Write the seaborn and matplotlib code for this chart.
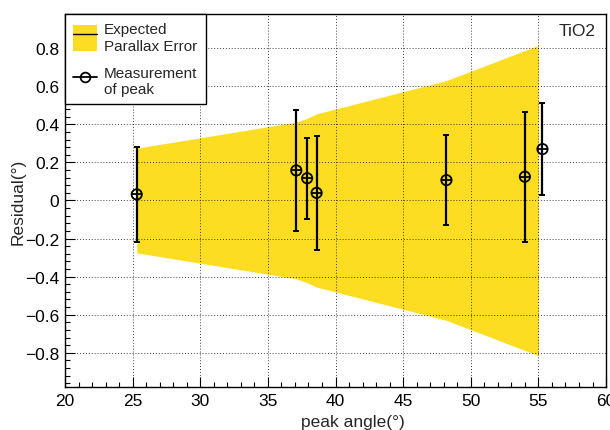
import numpy as np
import pandas as pd
import matplotlib
matplotlib.use("Agg")
import matplotlib.pyplot as plt
import seaborn as sns
from matplotlib.patches import Patch
from matplotlib.lines import Line2D
from matplotlib.ticker import MultipleLocator

# measured peaks: angle, residual, error
peak_angle = [25.3, 37.1, 37.9, 38.6, 48.2, 54.0, 55.3]
residual = [0.032, 0.158, 0.117, 0.040, 0.107, 0.125, 0.270]
residual_err = [0.250, 0.317, 0.214, 0.300, 0.235, 0.341, 0.242]

# expected parallax error band (half width)
band_angle = [25.3, 37.1, 37.9, 38.6, 48.2, 54.0, 55.0]
band_half = [0.275, 0.412, 0.432, 0.455, 0.630, 0.788, 0.815]

df = pd.DataFrame({"angle": peak_angle, "res": residual, "err": residual_err})
band = pd.DataFrame({"angle": band_angle, "half": band_half})

sns.set_theme(style="white")
plt.rcParams["font.family"] = ["Liberation Sans", "DejaVu Sans"]
plt.rcParams["axes.unicode_minus"] = True

yellow = "#fddd22"

fig = plt.figure(figsize=(6.10, 4.31), dpi=100)
ax = fig.add_axes([0.1066, 0.0998, 0.8869, 0.8654])

ax.fill_between(band["angle"], -band["half"], band["half"], color=yellow, lw=0, zorder=1)

# y error bars with caps
ax.errorbar(df["angle"], df["res"], yerr=df["err"], fmt="none", ecolor="black",
            elinewidth=1.6, capsize=2.2, capthick=1.4, zorder=3)
# small x error bars (no caps)
ax.errorbar(df["angle"], df["res"], xerr=0.36, fmt="none", ecolor="black",
            elinewidth=1.3, capsize=0, zorder=3)
sns.scatterplot(data=df, x="angle", y="res", ax=ax, marker="o", s=55,
                facecolor="none", edgecolor="black", linewidth=1.3, zorder=4)

ax.set_xlim(20, 60)
ax.set_ylim(-0.98, 0.98)
ax.xaxis.set_major_locator(MultipleLocator(5))
ax.xaxis.set_minor_locator(MultipleLocator(1))
ax.yaxis.set_minor_locator(MultipleLocator(0.04))
ax.set_yticks(np.arange(-0.8, 0.81, 0.2))
ax.set_yticklabels(["\u22120.8", "\u22120.6", "\u22120.4", "\u22120.2", "0",
                    "0.2", "0.4", "0.6", "0.8"])

ax.grid(True, which="major", color="black", linestyle=(0, (1, 2)), linewidth=0.7, alpha=0.75)
ax.set_axisbelow(False)
for s in ax.spines.values():
    s.set_color("black")
    s.set_linewidth(1.0)
    s.set_zorder(5)

ax.tick_params(axis="both", which="both", direction="in", colors="black",
               labelsize=12.5, bottom=True, left=True, top=False, right=False)
ax.tick_params(axis="both", which="major", length=7.5, width=0.8, pad=4)
ax.tick_params(axis="both", which="minor", length=3.8, width=0.8)

ax.set_xlabel("peak angle(°)", fontsize=12.5)
ax.set_ylabel("Residual(°)", fontsize=12.5)
ax.xaxis.set_label_coords(0.532, -0.072)
ax.yaxis.set_label_coords(-0.072, 0.5)

ax.text(0.98, 0.977, "TiO2", transform=ax.transAxes, ha="right", va="top", fontsize=12.5)

handles = [(Patch(facecolor=yellow, edgecolor="none"), Line2D([], [], color="black", lw=1.0)),
           Line2D([], [], color="black", lw=1.3, marker="o", markersize=7,
                  markerfacecolor="none", markeredgecolor="black", markeredgewidth=1.3)]
leg = ax.legend(handles, ["Expected\nParallax Error", "Measurement\nof peak"],
                loc="upper left", bbox_to_anchor=(0, 1), borderaxespad=0,
                frameon=True, fancybox=False, edgecolor="black", framealpha=1,
                fontsize=11, handlelength=1.55, handleheight=2.2, handletextpad=0.45,
                labelspacing=0.85, borderpad=0.55)
leg.get_frame().set_linewidth(1.0)
leg.set_zorder(6)

fig.savefig("out.png", dpi=100)
